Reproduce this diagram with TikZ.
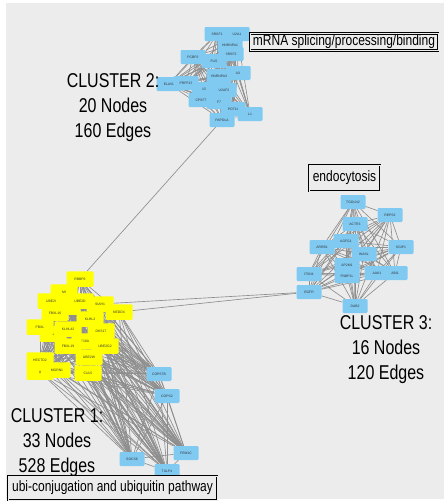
\documentclass[tikz,border=0pt]{standalone}
\usepackage{fontspec}
\setmainfont{Liberation Sans}
\newfontfamily\narrowfont{Liberation Sans}[FakeStretch=0.8]
\usepackage{tikz}
\usetikzlibrary{backgrounds, positioning}
\definecolor{nodeblue}{RGB}{128, 202, 242}
\definecolor{nodeyellow}{RGB}{255, 255, 0}
\definecolor{canvasgrey}{RGB}{236, 236, 236}
\definecolor{edgegrey}{RGB}{142, 142, 142}

% members of each cluster, used for the all-to-all edges
\newcommand{\clusterone}{mi, ell, you, youtwo, rbbp, ubetwoi, ubetwod, siah, nedd, fbxlsixteen, klhltwo, fbxl, klhlfortytwo, dks, rnf, fbxlnineteen, ubetwogtwo, hectd, ubetwow, mgrn, cul, copsseven, copstwo, socs, femone, tulp}
\newcommand{\clustertwo}{hnrnpaone, srsfone, utwoa, pcbptwo, srsftwo, fus, hnrnpathree, athree, elavl, prpf, fifteen, utwoaftwo, cpsf, fseven, pcf, lone, papola}
\newcommand{\clusterthree}{tgoln, reps, actr, arrb, agfg, sgip, wasl, aptwom, fnbp, itsn, aak, abi, egfr, dab}
\newcommand{\drawclique}[1]{%
  \foreach \a [count=\i] in #1 {
    \foreach \b [count=\j] in #1 {
      \ifnum\j>\i \draw[edge] (\a) -- (\b); \fi
    }
  }%
}

\begin{document}
\begin{tikzpicture}[
  x=1pt, y=-1pt,
  gene/.style={
    fill=nodeblue, rounded corners=1.2pt,
    minimum width=25pt, minimum height=14pt, inner sep=0pt,
    font=\fontsize{3.4}{4}\selectfont, text=black!80
  },
  ubi/.style={gene, fill=nodeyellow, minimum width=27pt, minimum height=15.5pt},
  edge/.style={draw=edgegrey, line width=0.65pt},
  clusterlabel/.style={
    font=\narrowfont\fontsize{20}{25}\selectfont,
    align=center, inner sep=0pt, anchor=north
  },
  titlebox/.style={
    draw, line width=0.8pt, double=canvasgrey, double distance=0.7pt,
    fill=canvasgrey, inner sep=0pt,
    font=\narrowfont\fontsize{15}{16}\selectfont
  }
]
\useasboundingbox (0,0) rectangle (444,501);

% cluster 2
\node[gene] (hnrnpaone) at (230,45) {HNRNPA1};
\node[gene] (srsfone) at (217,34) {SRSF1};
\node[gene] (utwoa) at (237,34) {U2A1};
\node[gene] (pcbptwo) at (193,57) {PCBP2};
\node[gene] (srsftwo) at (231,54) {SRSF2};
\node[gene] (fus) at (214,61) {FUS};
\node[gene] (athree) at (238,73) {A3};
\node[gene] (hnrnpathree) at (219,76) {HNRNPA3};
\node[gene] (elavl) at (169,84) {ELAVL};
\node[gene] (prpf) at (186,83) {PRPF19};
\node[gene] (fifteen) at (204,89) {15};
\node[gene] (utwoaftwo) at (224,90) {U2AF2};
\node[gene] (cpsf) at (201,100) {CPSF7};
\node[gene] (fseven) at (219,102) {F7};
\node[gene] (lone) at (250,114) {L1};
\node[gene] (pcf) at (233,109) {PCF11};
\node[gene] (papola) at (222,120) {PAPOLA};

% cluster 3
\node[gene] (tgoln) at (353,202) {TGOLN2};
\node[gene] (reps) at (390,215) {REPS2};
\node[gene] (actr) at (355,224) {ACTR3};
\node[gene] (arrb) at (322,247) {ARRB1};
\node[gene] (agfg) at (346,241) {AGFG1};
\node[gene] (sgip) at (401,247) {SGIP1};
\node[gene] (wasl) at (364,254) {WASL};
\node[gene] (aptwom) at (347,265) {AP2M1};
\node[gene] (fnbp) at (347,276) {FNBP1L};
\node[gene] (itsn) at (309,274) {ITSN1};
\node[gene] (aak) at (377,273) {AAK1};
\node[gene] (abi) at (395,273) {ABI1};
\node[gene] (egfr) at (309,292) {EGFR};
\node[gene] (dab) at (355,306) {DAB2};

% cluster 1
\node[ubi] (mi) at (64,292) {MI};
\node[ubi] (ell) at (67,307) {L};
\node[ubi] (you) at (53,334) {U};
\node[ubi] (youtwo) at (40,372) {U};
\node[ubi] (rbbp) at (80,279) {RBBP6};
\node[ubi] (ubetwoi) at (51,301) {UBE2I};
\node[ubi] (ubetwod) at (80,301) {UBE2D};
\node[ubi] (siah) at (100,304) {SIAH1};
\node[ubi] (nedd) at (119,312) {NEDD4};
\node[ubi] (fbxlsixteen) at (55,313) {FBXL16};
\node[ubi] (klhltwo) at (90,319) {KLHL2};
\node[ubi] (fbxl) at (40,327) {FBXL};
\node[ubi] (klhlfortytwo) at (68,329) {KLHL42};
\node[ubi] (dks) at (101,331) {DKS17};
\node[ubi] (rnf) at (85,341) {F19A};
\node[ubi] (fbxlnineteen) at (68,346) {FBXL19};
\node[ubi] (ubetwogtwo) at (105,346) {UBE2G2};
\node[ubi] (hectd) at (40,360) {HECTD2};
\node[ubi] (ubetwow) at (89,357) {UBE2W};
\node[ubi] (mgrn) at (57,370) {MGRN1};
\node[ubi] (cul) at (88,373) {CUL5};
\node[gene] (copsseven) at (159,374) {COPS7B};
\node[gene] (copstwo) at (167,396) {COPS2};
\node[gene] (socs) at (132,459) {SOCS6};
\node[gene] (femone) at (186,453) {FEM1C};
\node[gene] (tulp) at (167,471) {TULP4};

% cluster labels
\node[clusterlabel] (ctwolabel) at (113,73) {CLUSTER 2:\\20 Nodes\\160 Edges};
\node[clusterlabel] (cthreelabel) at (386,315) {CLUSTER 3:\\16 Nodes\\120 Edges};
\node[clusterlabel] (conelabel) at (57,408) {CLUSTER 1:\\33 Nodes\\528 Edges};

% function boxes
\node[titlebox, minimum width=188pt, minimum height=17pt] (splicebox) at (344,42) {mRNA splicing/processing/binding};
\node[titlebox, minimum width=71pt, minimum height=26pt] (endobox) at (344.5,178) {endocytosis};
\node[titlebox, minimum width=209pt, minimum height=24pt] (ubibox) at (112.5,488) {ubi-conjugation and ubiquitin pathway};

\begin{pgfonlayer}{background}
  \fill[canvasgrey] (6,3) rectangle (444,499);
  \drawclique{\clusterone}
  \drawclique{\clustertwo}
  \drawclique{\clusterthree}
  % links between clusters
  \draw[edge] (papola) -- (rbbp);
  \draw[edge] (siah) -- (egfr);
  \draw[edge] (nedd) -- (egfr);
\end{pgfonlayer}
\end{tikzpicture}
\end{document}
